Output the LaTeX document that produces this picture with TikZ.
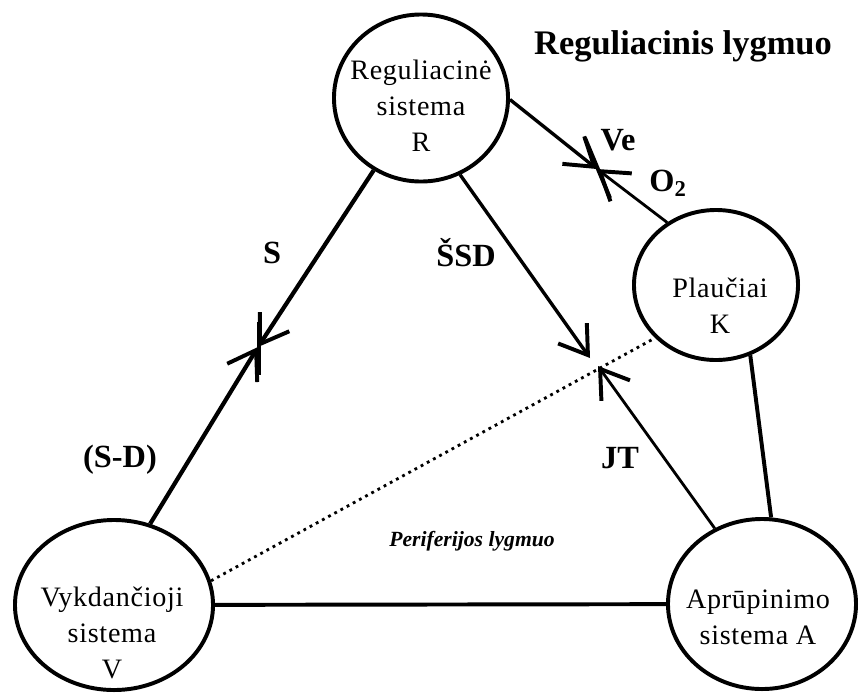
\documentclass[tikz,border=0pt]{standalone}
\usepackage{fontspec}
\setmainfont{Liberation Serif}
\newfontfamily\sysfont[LetterSpace=2.5]{Liberation Serif}
\usepackage{tikz}
\usetikzlibrary{arrows.meta,shapes.geometric}

\tikzset{
  sys/.style={ellipse, draw, line width=2.8pt, inner sep=0pt},
  systext/.style={font=\sysfont\fontsize{20}{25.6}\selectfont, align=center},
  lbl/.style={font=\bfseries\fontsize{23}{27}\selectfont},
  flow/.style={line width=2.4pt,
    -{Straight Barb[length=19pt, width=25pt, line width=2.8pt]}},
  tick/.style={line width=2.8pt},
  link/.style={line width=2.8pt},
  dots/.style={line width=2pt, dash pattern=on 2pt off 3pt}
}

\begin{document}
\begin{tikzpicture}[x=0.025cm, y=-0.025cm]
    \useasboundingbox (0,0) rectangle (861,693);

    \node[sys, minimum width=4.35cm, minimum height=4.175cm] (R) at (421,98) {};
    \node[systext] (Rtext) at (421,106)
      {Reguliacinė\\sistema\\R};

    \node[sys, minimum width=4.1cm, minimum height=3.75cm] (K) at (716,285) {};
    \node[systext] (Ktext) at (720,306)
      {Plaučiai\\K};

    \node[sys, minimum width=4.95cm, minimum height=4.25cm] (V) at (114,605) {};
    \node[systext] (Vtext) at (112,633)
      {Vykdančioji\\sistema\\V};

    \node[sys, minimum width=4.7cm, minimum height=4.25cm] (A) at (762,604) {};
    \node[systext] (Atext) at (758,617)
      {Aprūpinimo\\sistema A};

    \coordinate (sj) at (258,347);
    \coordinate (vj) at (597,169);
    \coordinate (ssdtip) at (590,358);
    \coordinate (jttip) at (598,366);

    \draw[dots] (V.14) -- (K.221);
    \draw[link] (V) -- (A);
    \draw[link] (K.-64) -- (A.84);

    \draw[flow, line width=3pt] (R) -- (sj);
    \draw[flow, line width=3pt] (V.66) -- (sj);
    \draw[tick] (sj) ++(1,-25) -- ++(0,53);

    \draw[flow] (R.-1) -- (vj);
    \draw[flow, line width=2pt] (K.128) -- (vj);
    \draw[tick] (vj) ++(-12,-31) -- ++(25,60);

    \draw[flow] (R.-63) -- (ssdtip);
    \draw[flow, line width=2pt] (A.122) -- (jttip);

    \node[lbl, font=\bfseries\fontsize{24.5}{28}\selectfont] (title)
      at (683,46) {Reguliacinis lygmuo};
    \node[lbl] (ve) at (618,140) {Ve};
    \node[lbl] (o2) at (668,183) {O\textsubscript{2}};
    \node[lbl] (s) at (272,253) {S};
    \node[lbl] (ssd) at (466,253) {ŠSD};
    \node[lbl] (sd) at (120,460) {(S-D)};
    \node[lbl] (jt) at (620,458) {JT};
    \node[font=\bfseries\itshape\fontsize{15.4}{18}\selectfont] (periph)
      at (472,541) {Periferijos lygmuo};
  \end{tikzpicture}
\end{document}
